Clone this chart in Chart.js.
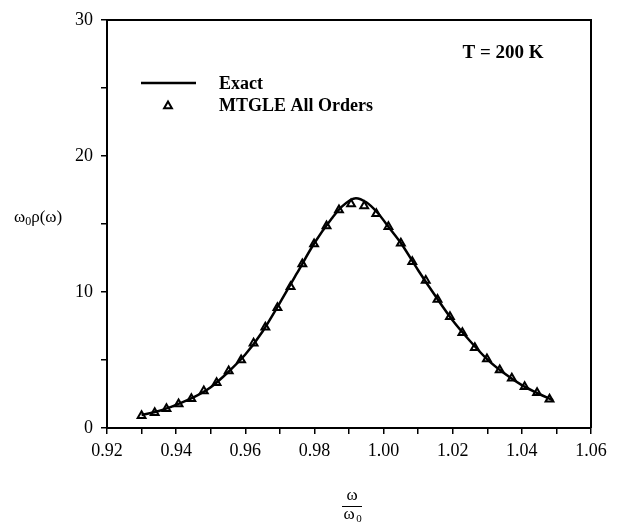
<!DOCTYPE html>
<html>
<head>
<meta charset="utf-8">
<script src="https://cdn.jsdelivr.net/npm/chart.js@4.4.1/dist/chart.umd.min.js"></script>
<style>
  html, body { margin: 0; padding: 0; background: #fff; }
  #wrap { width: 622px; height: 525px; }
</style>
</head>
<body>
<div id="wrap"><canvas id="espectro"></canvas></div>
<script>
let ctx = document.getElementById('espectro')

// Chart defaults
Chart.defaults.font.family = "'Liberation Serif', 'Times New Roman', serif"
Chart.defaults.font.size = 18
Chart.defaults.color = '#000'

// exact spectral density (solid curve)
const exactW = [0.930, 0.935, 0.940, 0.945, 0.950, 0.955, 0.960, 0.965, 0.970, 0.975,
                0.980, 0.985, 0.988, 0.992, 0.995, 0.998, 1.002, 1.005, 1.010, 1.015,
                1.020, 1.025, 1.030, 1.035, 1.040, 1.045, 1.049]
const exactRho = [0.95, 1.25, 1.70, 2.25, 3.00, 4.10, 5.40, 7.10, 9.20, 11.40,
                  13.60, 15.40, 16.30, 16.90, 16.60, 15.90, 14.60, 13.60, 11.60, 9.70,
                  7.90, 6.40, 5.05, 4.00, 3.15, 2.50, 2.05]

// MTGLE all orders (triangles)
const mtgleW = [0.9300, 0.9338, 0.9372, 0.9407, 0.9444, 0.9480, 0.9517, 0.9552, 0.9588, 0.9624,
                0.9658, 0.9693, 0.9731, 0.9765, 0.9799, 0.9835, 0.9871, 0.9906, 0.9944, 0.9979,
                1.0014, 1.0050, 1.0083, 1.0122, 1.0156, 1.0192, 1.0228, 1.0264, 1.0299, 1.0336,
                1.0371, 1.0408, 1.0444, 1.0480]
const mtgleRho = [0.90, 1.13, 1.42, 1.76, 2.15, 2.72, 3.33, 4.19, 5.00, 6.23,
                  7.40, 8.85, 10.39, 12.06, 13.53, 14.85, 16.03, 16.47, 16.32, 15.75,
                  14.80, 13.58, 12.23, 10.85, 9.45, 8.18, 7.01, 5.90, 5.07, 4.26,
                  3.65, 3.04, 2.60, 2.11]

const legendLabels = ['Exact', 'MTGLE All Orders']
const tempLabel = 'T = 200 K'

const toPoints = (xs, ys) => xs.map((x, i) => ({ x, y: ys[i] }))

const data = {
    datasets: [{
        label: legendLabels[0],
        data: toPoints(exactW, exactRho),
        showLine: true,
        borderColor: '#000',
        borderWidth: 2.5,
        pointRadius: 0,
        cubicInterpolationMode: 'monotone'
    }, {
        label: legendLabels[1],
        data: toPoints(mtgleW, mtgleRho),
        showLine: false,
        pointStyle: 'triangle',
        pointRadius: 4.5,
        backgroundColor: '#fff',
        borderColor: '#000',
        borderWidth: 2
    }]
}

// frame, legend, label text and axis titles
const decor = {
    id: 'decor',
    afterDraw(chart) {
        const c = chart.ctx
        const a = chart.chartArea
        c.save()
        c.strokeStyle = '#000'
        c.lineWidth = 2
        c.beginPath()
        c.moveTo(a.left, a.top)
        c.lineTo(a.right, a.top)
        c.lineTo(a.right, a.bottom)
        c.stroke()

        // legend
        c.lineWidth = 2.5
        c.beginPath()
        c.moveTo(141, 83)
        c.lineTo(196, 83)
        c.stroke()
        const tri = chart.data.datasets[1]
        c.lineWidth = tri.borderWidth
        c.fillStyle = tri.backgroundColor
        Chart.helpers.drawPoint(c, { pointStyle: 'triangle', radius: 4.5, borderWidth: 2 }, 168, 106)

        c.fillStyle = '#000'
        c.font = "bold 18px 'Liberation Serif'"
        c.textBaseline = 'middle'
        c.textAlign = 'left'
        c.fillText(legendLabels[0], 219, 84)
        c.fillText(legendLabels[1], 219, 106)

        c.font = "bold 19px 'Liberation Serif'"
        c.textAlign = 'center'
        c.fillText(tempLabel, 503, 53)

        // y title: omega_0 rho(omega)
        c.textAlign = 'left'
        c.font = "17px 'Liberation Serif'"
        let x = 14
        c.fillText('ω', x, 218)
        x += c.measureText('ω').width
        c.font = "12px 'Liberation Serif'"
        c.fillText('0', x, 222)
        x += c.measureText('0').width
        c.font = "17px 'Liberation Serif'"
        c.fillText('ρ(ω)', x, 218)

        // x title: omega / omega_0
        const cx = 352
        c.textAlign = 'center'
        c.fillText('ω', cx, 496)
        c.lineWidth = 1
        c.beginPath()
        c.moveTo(cx - 10, 506.5)
        c.lineTo(cx + 10, 506.5)
        c.stroke()
        c.fillText('ω', cx - 3, 515)
        c.font = "11px 'Liberation Serif'"
        c.fillText('0', cx + 7, 519)
        c.restore()
    }
}

const config = {
    type: 'scatter',
    data,
    options: {
        responsive: true,
        maintainAspectRatio: false,
        animation: false,
        layout: { padding: { top: 20, right: 31, left: 0, bottom: 0 } },
        plugins: {
            legend: { display: false },
            tooltip: { enabled: false }
        },
        scales: {
            x: {
                type: 'linear',
                min: 0.92,
                max: 1.06,
                afterFit: s => { s.height = 97 },
                border: { display: true, color: '#000', width: 2 },
                grid: { drawOnChartArea: false, drawTicks: true, tickLength: 6, color: '#000', lineWidth: 1.5 },
                ticks: {
                    stepSize: 0.01,
                    padding: 6,
                    maxRotation: 0,
                    autoSkip: false,
                    callback: v => Math.round(v * 100) % 2 === 0 ? v.toFixed(2) : ''
                }
            },
            y: {
                min: 0,
                max: 30,
                afterFit: s => { s.width = 107 },
                border: { display: true, color: '#000', width: 2 },
                grid: { drawOnChartArea: false, drawTicks: true, tickLength: 6, color: '#000', lineWidth: 1.5 },
                ticks: {
                    stepSize: 5,
                    padding: 8,
                    autoSkip: false,
                    callback: v => v % 10 === 0 ? v : ''
                }
            }
        }
    },
    plugins: [decor]
}

const graph = new Chart(ctx, config)
</script>
</body>
</html>
